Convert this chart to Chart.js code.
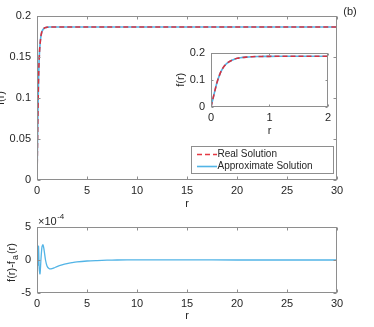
<!DOCTYPE html>
<html>
<head>
<meta charset="utf-8">
<script src="https://cdn.jsdelivr.net/npm/chart.js@4.4.1/dist/chart.umd.min.js"></script>
<style>
html,body{margin:0;padding:0;background:#fff;overflow:hidden;}
body{width:374px;height:327px;position:relative;}
.box{position:absolute;}
</style>
</head>
<body>
<div class="box" style="left:-6px;top:0;width:380px;height:215px"><canvas id="mainChart" width="380" height="215"></canvas></div>
<div class="box" style="left:-6px;top:205px;width:380px;height:122px"><canvas id="errChart" width="380" height="122"></canvas></div>
<div class="box" style="left:170px;top:40px;width:165px;height:100px"><canvas id="insetChart" width="165" height="100"></canvas></div>
<script>
// readings
const rVals   = [0, 0.05, 0.1, 0.15, 0.2, 0.25, 0.3, 0.35, 0.4, 0.45, 0.5, 0.6, 0.7, 0.8, 0.9, 1.0, 1.2, 1.5, 2, 3, 5, 10, 15, 20, 25, 30];
const fReal   = [0, 0.045, 0.088, 0.12, 0.142, 0.156, 0.165, 0.171, 0.176, 0.179, 0.181, 0.1835, 0.185, 0.1857, 0.186, 0.1863, 0.1865, 0.1866, 0.1866, 0.1866, 0.1866, 0.1866, 0.1866, 0.1866, 0.1866, 0.1866];
const fApprox = [0, 0.045, 0.088, 0.12, 0.142, 0.156, 0.165, 0.171, 0.176, 0.179, 0.181, 0.1835, 0.185, 0.1857, 0.186, 0.1863, 0.1865, 0.1866, 0.1866, 0.1866, 0.1866, 0.1866, 0.1866, 0.1866, 0.1866, 0.1866];

// error f(r)-f_a(r), in units of 1e-4
const rErr    = [0, 0.05, 0.1, 0.15, 0.22, 0.3, 0.4, 0.5, 0.6, 0.7, 0.85, 1.0, 1.2, 1.4, 1.7, 2.0, 2.5, 3, 3.5, 4, 5, 6, 7, 8, 10, 15, 20, 25, 30];
const errVals = [0, 2.0, -0.8, 2.1, -1.2, -2.1, 0.2, 2.0, 2.3, 1.6, 0, -0.9, -1.3, -1.35, -1.2, -1.0, -0.75, -0.55, -0.4, -0.28, -0.15, -0.08, -0.03, 0, 0.02, 0.01, 0, 0, 0];

const rTicks      = [0, 5, 10, 15, 20, 25, 30];
const fTicks      = [0, 0.05, 0.1, 0.15, 0.2];
const insetRTicks = [0, 1, 2];
const insetFTicks = [0, 0.1, 0.2];
const errTicks    = [-5, 0, 5];

const seriesNames = ['Real Solution', 'Approximate Solution'];
const redCol = 'rgba(226,36,48,0.9)';
const blueCol = '#52b4e6';
const ink = '#262626';
const axisCol = '#8e8e8e';
const FONT = '"Liberation Sans", Arial, sans-serif';

const pts = (xs, ys) => xs.map((x, i) => ({x: x, y: ys[i]}));
const fixTicks = list => scale => { scale.ticks = list.map(v => ({value: v})); };
const fmt = v => String(+(+v).toFixed(4));

const boxAxes = {
  id: 'boxAxes',
  afterDraw(chart, args, opts) {
    const {ctx, chartArea: a, scales} = chart;
    const L = Math.round(a.left) + 0.5, R = Math.round(a.right) - 0.5;
    const T = Math.round(a.top) + 0.5, B = Math.round(a.bottom) - 0.5;
    const len = opts.len || 3;
    ctx.save();
    ctx.strokeStyle = axisCol;
    ctx.lineWidth = 1;
    ctx.strokeRect(L, T, R - L, B - T);
    ctx.beginPath();
    scales.x.ticks.forEach(t => {
      const p = Math.round(scales.x.getPixelForValue(t.value)) + 0.5;
      ctx.moveTo(p, B); ctx.lineTo(p, B - len);
      ctx.moveTo(p, T); ctx.lineTo(p, T + len);
    });
    scales.y.ticks.forEach(t => {
      const p = Math.round(scales.y.getPixelForValue(t.value)) + 0.5;
      ctx.moveTo(L, p); ctx.lineTo(L + len, p);
      ctx.moveTo(R, p); ctx.lineTo(R - len, p);
    });
    ctx.stroke();
    ctx.restore();
  }
};

const boxLegend = {
  id: 'boxLegend',
  afterDraw(chart, args, o) {
    if (!o.show) return;
    const {ctx} = chart;
    ctx.save();
    ctx.fillStyle = '#fff';
    ctx.fillRect(o.x, o.y, o.w, o.h);
    ctx.strokeStyle = axisCol;
    ctx.lineWidth = 1;
    ctx.strokeRect(o.x + 0.5, o.y + 0.5, o.w, o.h);
    ctx.font = '10px ' + FONT;
    ctx.textBaseline = 'middle';
    chart.data.datasets.forEach((ds, i) => {
      const yy = o.y + o.first + i * o.step;
      ctx.strokeStyle = ds.borderColor;
      ctx.lineWidth = ds.borderWidth;
      ctx.setLineDash(ds.borderDash || []);
      ctx.beginPath();
      ctx.moveTo(o.x + 6, yy + 0.5);
      ctx.lineTo(o.x + 26, yy + 0.5);
      ctx.stroke();
      ctx.setLineDash([]);
      ctx.fillStyle = ink;
      ctx.fillText(ds.label, o.x + 26.5, yy + 0.5);
    });
    ctx.restore();
  }
};

const extraText = {
  id: 'extraText',
  afterDraw(chart, args, o) {
    const {ctx} = chart;
    ctx.save();
    ctx.fillStyle = ink;
    if (o.tag) {
      ctx.font = '11px ' + FONT;
      ctx.textAlign = 'center';
      ctx.textBaseline = 'middle';
      ctx.fillText(o.tag.text, o.tag.x, o.tag.y);
    }
    if (o.expo) {
      ctx.font = '11px ' + FONT;
      ctx.textAlign = 'left';
      ctx.textBaseline = 'middle';
      const base = '\u00d710';
      ctx.fillText(base, o.expo.x, o.expo.y);
      const w = ctx.measureText(base).width;
      ctx.font = '8px ' + FONT;
      ctx.fillText('-4', o.expo.x + w + 0.5, o.expo.y - 5);
    }
    if (o.ylab) {
      // f(r)-f_a(r), rotated, with subscript a
      ctx.translate(o.ylab.x, o.ylab.y);
      ctx.rotate(-Math.PI / 2);
      ctx.textBaseline = 'alphabetic';
      ctx.textAlign = 'left';
      const parts = [['f(r)-f', 11, 0], ['a', 9, 3.5], ['(r)', 11, 0]];
      let total = 0;
      parts.forEach(p => { ctx.font = p[1] + 'px ' + FONT; total += ctx.measureText(p[0]).width + 1; });
      let cx = -total / 2;
      parts.forEach(p => {
        ctx.font = p[1] + 'px ' + FONT;
        ctx.fillText(p[0], cx, p[2]);
        cx += ctx.measureText(p[0]).width + 1;
      });
    }
    ctx.restore();
  }
};

Chart.register(boxAxes, boxLegend, extraText);
Chart.defaults.font.family = FONT;
Chart.defaults.color = ink;

function lineSets(lineW) {
  return [
    { label: seriesNames[0], data: pts(rVals, fReal), borderColor: redCol, borderWidth: lineW,
      borderDash: [5, 3], pointRadius: 0, cubicInterpolationMode: 'monotone', fill: false },
    { label: seriesNames[1], data: pts(rVals, fApprox), borderColor: blueCol, borderWidth: lineW,
      pointRadius: 0, cubicInterpolationMode: 'monotone', fill: false }
  ];
}

function axes(o) {
  return {
    x: {
      type: 'linear', min: o.xmin, max: o.xmax,
      afterBuildTicks: fixTicks(o.xt),
      afterFit: s => { s.height = o.xh; },
      grid: {display: false, drawTicks: false}, border: {display: false},
      ticks: {font: {size: 11}, padding: 4, maxRotation: 0, callback: fmt},
      title: {display: true, text: 'r', font: {size: 11}, padding: {top: 0, bottom: o.xtPad}}
    },
    y: {
      type: 'linear', min: o.ymin, max: o.ymax,
      afterBuildTicks: fixTicks(o.yt),
      afterFit: s => { s.width = o.yw; },
      grid: {display: false, drawTicks: false}, border: {display: false},
      ticks: {font: {size: 11}, padding: 6, callback: fmt},
      title: {display: !!o.ytitle, text: o.ytitle || '', font: {size: 11}, padding: {top: o.ytPad, bottom: 0}}
    }
  };
}

new Chart(document.getElementById('mainChart'), {
  type: 'line',
  data: {datasets: lineSets(1.6)},
  options: {
    responsive: false, animation: false, parsing: true,
    layout: {padding: {top: 16, right: 37, left: 0, bottom: 0}},
    scales: axes({xmin: 0, xmax: 30, xt: rTicks, xh: 35, xtPad: 4,
                  ymin: 0, ymax: 0.2, yt: fTicks, yw: 43, ytitle: 'f(r)', ytPad: 0}),
    plugins: {
      legend: {display: false}, tooltip: {enabled: false},
      boxAxes: {len: 3},
      boxLegend: {show: true, x: 197, y: 146, w: 142, h: 27, first: 8, step: 12},
      extraText: {tag: {text: '(b)', x: 356, y: 12}}
    }
  }
});

new Chart(document.getElementById('insetChart'), {
  type: 'line',
  data: {datasets: lineSets(1.6)},
  options: {
    responsive: false, animation: false,
    layout: {padding: {top: 10, right: 4, left: 0, bottom: 0}},
    scales: axes({xmin: 0, xmax: 2, xt: insetRTicks, xh: 33, xtPad: 2,
                  ymin: 0, ymax: 0.2, yt: insetFTicks, yw: 41, ytitle: 'f(r)', ytPad: 4}),
    plugins: {legend: {display: false}, tooltip: {enabled: false}, boxAxes: {len: 2}}
  }
});

new Chart(document.getElementById('errChart'), {
  type: 'line',
  data: {datasets: [
    { label: 'f(r)-f_a(r)', data: pts(rErr, errVals), borderColor: blueCol, borderWidth: 1.3,
      pointRadius: 0, tension: 0.3, fill: false }
  ]},
  options: {
    responsive: false, animation: false,
    layout: {padding: {top: 22, right: 37, left: 0, bottom: 0}},
    scales: axes({xmin: 0, xmax: 30, xt: rTicks, xh: 34, xtPad: 4,
                  ymin: -5, ymax: 5, yt: errTicks, yw: 43, ytitle: '', ytPad: 0}),
    plugins: {
      legend: {display: false}, tooltip: {enabled: false},
      boxAxes: {len: 3},
      extraText: {expo: {x: 44, y: 17}, ylab: {x: 20.5, y: 57}}
    }
  }
});
</script>
</body>
</html>
